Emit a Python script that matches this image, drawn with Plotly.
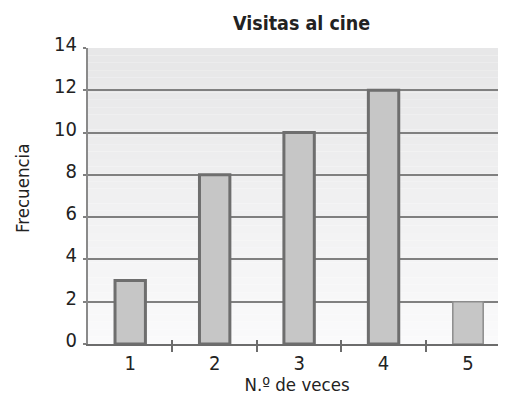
import plotly.graph_objects as go

# datos
veces = [1, 2, 3, 4, 5]
etiquetas = ["1", "2", "3", "4", "5"]
frecuencia = [3, 8, 10, 12, 2]
marcas_y = [0, 2, 4, 6, 8, 10, 12, 14]

FONT = "DejaVu Sans Condensed, Liberation Sans Narrow, Arial Narrow, sans-serif"

fig = go.Figure()

fig.add_trace(go.Bar(
    x=veces,
    y=frecuencia,
    width=0.36,
    marker=dict(
        color="#c6c6c6",
        line=dict(color=["#6e6e6e"] * 4 + ["#8c8c8c"], width=[3, 3, 3, 3, 1.5]),
    ),
    showlegend=False,
))

# fondo degradado (gris arriba, casi blanco abajo)
n = 40
for i in range(n):
    t = i / (n - 1)
    g = int(250 - (250 - 231) * t)
    fig.add_shape(
        type="rect", xref="x domain", yref="y domain",
        x0=0, x1=1, y0=i / n, y1=(i + 1) / n,
        fillcolor=f"rgb({g},{g},{g + 1})", line_width=0, layer="below",
    )

# ticks interiores del eje x
fig.add_trace(go.Scatter(x=[veces[0]], y=[0], xaxis="x2", mode="markers",
                         marker=dict(opacity=0), showlegend=False, hoverinfo="skip"))

# título del eje y como anotación (un poco por encima del centro)
fig.add_annotation(
    text="Frecuencia", textangle=-90, showarrow=False,
    xref="paper", yref="paper", x=-0.158, y=0.527,
    xanchor="center", yanchor="middle", font=dict(size=18.5),
)

# la página tiene un margen de 8 px en el body: la figura se reduce para caber
fig.update_layout(
    width=498, height=387,
    margin=dict(l=80, r=0, t=40, b=51, autoexpand=False),
    paper_bgcolor="white",
    plot_bgcolor="rgba(0,0,0,0)",
    font=dict(family=FONT, size=18, color="#222"),
    title=dict(text="<b>Visitas al cine</b>", x=0.511, xref="paper", xanchor="center",
               y=0.961, yref="container", yanchor="middle",
               font=dict(size=19.5, color="#222"), automargin=False),
    xaxis=dict(
        range=[0.5, 5.45], tickvals=veces, ticktext=etiquetas, ticks="",
        showgrid=False, zeroline=False, automargin=False,
        showline=True, linecolor="#6c6c6c", linewidth=2,
        minor=dict(tickvals=[1.5, 2.5, 3.5, 4.5], ticks="outside", ticklen=6,
                   tickwidth=1.5, tickcolor="#6c6c6c"),
        ticklabelstandoff=0,
        title=dict(text="N.º de veces", standoff=5, font=dict(size=18.5)),
        tickfont=dict(size=20),
    ),
    xaxis2=dict(
        overlaying="x", matches="x", side="bottom", anchor="y",
        tickvals=[1.5, 2.5, 3.5, 4.5], ticks="inside", ticklen=4, tickwidth=1.5,
        tickcolor="#6c6c6c", showticklabels=False, showgrid=False,
        zeroline=False, showline=False, automargin=False,
    ),
    yaxis=dict(
        range=[0, 14], tickvals=marcas_y, ticks="outside", ticklen=3,
        tickcolor="#808080", tickwidth=1.5, automargin=False,
        showgrid=True, gridcolor="#808080", gridwidth=1.5,
        zeroline=False, showline=True, linecolor="#8a8a8a", linewidth=2,
        ticklabelstandoff=2, ticklabelshift=-4,
        tickfont=dict(size=20),
    ),
    bargap=0.6,
)

fig.write_html("out.html")
